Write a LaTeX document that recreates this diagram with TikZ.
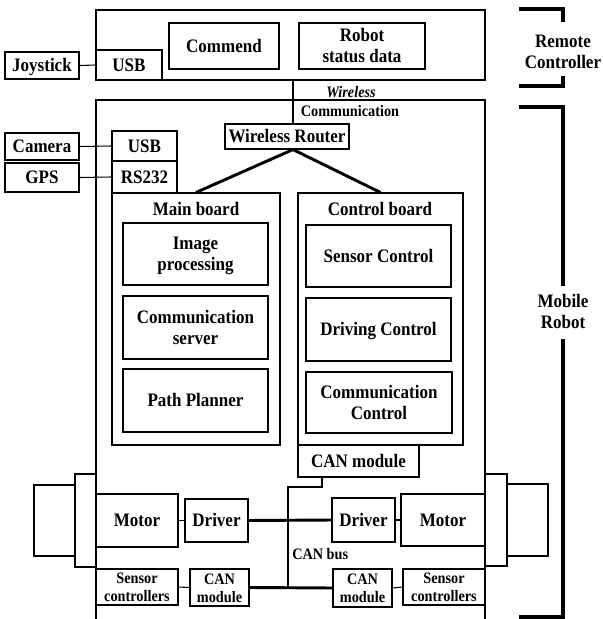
\documentclass[tikz,border=0pt]{standalone}
\usepackage{fontspec}
\usepackage{graphicx}
\setmainfont{Liberation Serif}
\usetikzlibrary{calc}

% text sizes used in the blocks
\newcommand{\bigtxt}{\fontsize{12.75}{14}\selectfont\bfseries}
\newcommand{\smalltxt}{\fontsize{10.7}{12}\selectfont\bfseries}
% slightly tall lettering, one or more centred lines
\newcommand{\vst}[1]{\scalebox{1}[1.12]{\begin{tabular}{@{}c@{}}#1\end{tabular}}}

% \pbox[options]{name}{x1}{y1}{x2}{y2}{text}: a block given by two corners,
% its text set a little below the centre so the letters sit in the middle
\newcommand{\pbox}[7][]{%
  \node[box,minimum width={(#5-#3)*0.75pt},minimum height={(#6-#4)*0.75pt}]
    (#2) at ({(#3+#5)/2},{(#4+#6)/2}) {};
  \node[txt,#1] at ([yshift=-1.5pt]#2.center) {\vst{#7}};}
\newcommand{\ebox}[5]{%
  \node[box,minimum width={(#4-#2)*0.75pt},minimum height={(#5-#3)*0.75pt}]
    (#1) at ({(#2+#4)/2},{(#3+#5)/2}) {};}

\begin{document}
\begin{tikzpicture}[x=0.75pt,y=-0.75pt,
  box/.style={draw,line width=0.8pt,inner sep=0pt},
  txt/.style={inner sep=0pt,font=\bigtxt},
  small/.style={font=\smalltxt},
  link/.style={line width=0.8pt},
  bus/.style={line width=2.2pt},
  bracket/.style={line width=2.3pt}]
\useasboundingbox (0,0) rectangle (603,619);

% remote controller
\ebox{remote}{96}{10}{485}{80}
\pbox{usbA}{96}{50}{162}{80}{USB}
\pbox{joy}{5}{52}{79}{79}{Joystick}
\pbox{cmd}{169}{23}{279}{69}{Commend}
\pbox{status}{299}{23}{425}{69}{Robot\\status data}
\draw[link] (joy.east) -- (usbA.west);

% mobile robot frame (open at the bottom)
\ebox{robot}{96}{100}{485}{660}

% wireless link
\coordinate (wl) at (293,0);
\pbox{router}{225}{124}{349}{149}{Wireless Router}
\draw[line width=1.6pt] (remote.south -| wl) -- (router.north -| wl);
\node[txt,font=\smalltxt\itshape] (wtxt) at (351,94) {\vst{Wireless}};
\node[txt,font=\smalltxt] (ctxt) at (350,113) {\vst{Communication}};

% sensors on the main board
\pbox{usbB}{112}{131}{177}{161}{USB}
\pbox{rs}{112}{161}{177}{193}{RS232}
\pbox{cam}{5}{133}{79}{160}{Camera}
\pbox{gps}{5}{163}{79}{192}{GPS}
\draw[link] (cam.east) -- (usbB.west);
\draw[link] (gps.east) -- (rs.west);

% main board
\ebox{main}{112}{193}{280}{445}
\node[txt] (mainlbl) at (196,211) {\vst{Main board}};
\pbox{img}{123}{223}{268}{285}{Image\\processing}
\pbox{srv}{123}{296}{268}{359}{Communication\\server}
\pbox{path}{123}{369}{268}{432}{Path Planner}

% control board
\ebox{ctrl}{298}{193}{463}{445}
\node[txt] (ctrllbl) at (380,211) {\vst{Control board}};
\pbox{sens}{306}{225}{451}{287}{Sensor Control}
\pbox{drive}{306}{298}{451}{361}{Driving Control}
\pbox{comm}{306}{372}{452}{433}{Communication\\Control}
\pbox{canm}{298}{445}{419}{477}{CAN module}

% router to the boards
\draw[bus] (router.south -| wl) -- (main.north);
\draw[bus] (router.south -| wl) -- (ctrl.north);

% left drive
\ebox{wheelLo}{75}{474}{96}{567}
\ebox{wheelLi}{34}{485}{75}{556}
\pbox{motorL}{96}{494}{178}{547}{Motor}
\pbox{drvL}{185}{499}{248}{542}{Driver}
\pbox[small]{sensL}{96}{569}{178}{605}{Sensor\\controllers}
\pbox[small]{canL}{190}{569}{249}{606}{CAN\\module}
\draw[link] (motorL.east) -- (drvL.west);
\draw[link] (sensL.east) -- (canL.west);

% right drive
\ebox{wheelRo}{485}{474}{507}{566}
\ebox{wheelRi}{507}{484}{548}{556}
\pbox{motorR}{401}{494}{485}{546}{Motor}
\pbox{drvR}{332}{498}{395}{542}{Driver}
\pbox[small]{sensR}{403}{569}{485}{605}{Sensor\\controllers}
\pbox[small]{canR}{333}{569}{392}{607}{CAN\\module}
\draw[link] (drvR.east) -- (motorR.west);
\draw[link] (canR.east) -- (sensR.west);

% CAN bus
\coordinate (bend) at (322,487);
\coordinate (busTop) at (288,487);
\draw[bus] (canm.south -| bend) -- (bend) -- (busTop) -- (busTop |- canL.east);
\draw[bus] (drvL.east) -- (drvR.west);
\draw[bus] (canL.east) -- (canR.west);
\node[txt,font=\smalltxt,anchor=west] (buslbl) at (292,556) {\vst{CAN bus}};

% brackets on the right
\draw[bracket] (519,9) -- (563,9) -- (563,22);
\draw[bracket] (563,76) -- (563,86) -- (519,86);
\node[txt] (rclbl) at (563,54) {\vst{Remote\\Controller}};
\draw[bracket] (519,107) -- (563,107) -- (563,286);
\draw[bracket] (563,339) -- (563,617) -- (519,617);
\node[txt] (mrlbl) at (563,314) {\vst{Mobile\\Robot}};
\end{tikzpicture}
\end{document}
